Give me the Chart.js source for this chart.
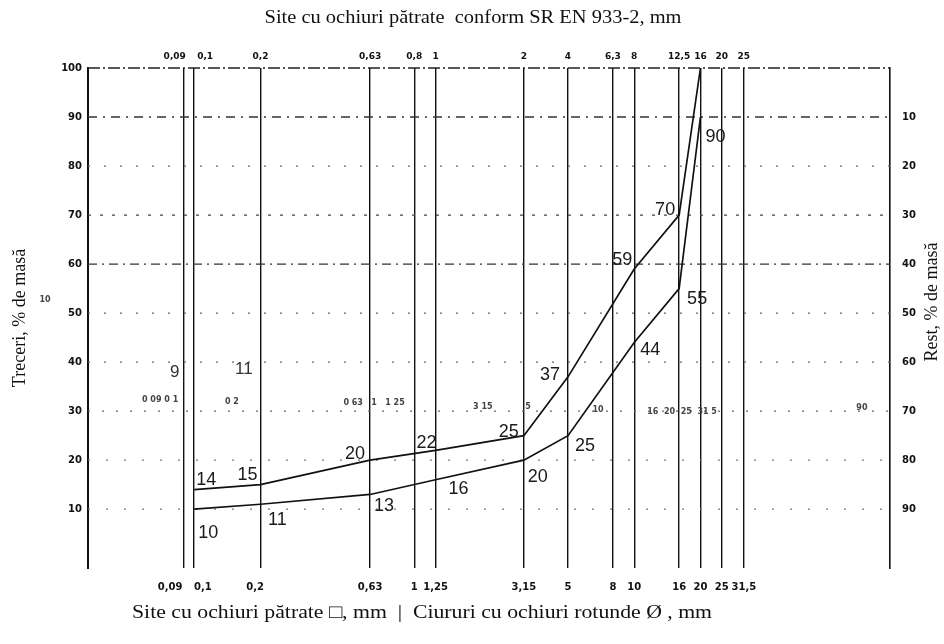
<!DOCTYPE html>
<html>
<head>
<meta charset="utf-8">
<style>
html,body{margin:0;padding:0;background:#fff;}
#wrap{width:944px;height:644px;position:relative;}
canvas{display:block;}
</style>
<script src="https://cdn.jsdelivr.net/npm/chart.js@4.4.1/dist/chart.umd.min.js"></script>
</head>
<body>
<div id="wrap"><canvas id="c" width="944" height="644"></canvas></div>
<script>
// ---------- data ----------
const sieveRound   = [0.09, 0.1, 0.2, 0.63, 1, 1.25, 3.15, 5, 8, 10, 16, 20, 25, 31.5];
const labelsRound  = ['0,09','0,1','0,2','0,63','1','1,25','3,15','5','8','10','16','20','25','31,5'];
const labelsSquare = ['0,09','0,1','0,2','0,63','0,8','1','2','4','6,3','8','12,5','16','20','25'];
const curveSieves  = [0.1, 0.2, 0.63, 1.25, 3.15, 5, 10, 16, 20];
const upperLimit   = [14, 15, 20, 22, 25, 37, 59, 70, 100];
const lowerLimit   = [10, 11, 13, 16, 20, 25, 44, 55, 90];
const upperShown   = [true, true, true, true, true, true, true, true, false];
const lowerShown   = [true, true, true, true, true, true, true, true, true];
const passTicks    = [10, 20, 30, 40, 50, 60, 70, 80, 90, 100];
const restTicks    = [10, 20, 30, 40, 50, 60, 70, 80, 90];

const topTitle    = 'Site cu ochiuri pătrate  conform SR EN 933-2, mm';
const bottomTitle = 'Site cu ochiuri pătrate \u25A1, mm  |  Ciururi cu ochiuri rotunde \u00D8 , mm';
const leftTitle   = 'Treceri, % de masă';
const rightTitle  = 'Rest, % de masă';

// faint show-through text of the scanned page (data-space anchors)
const ghostNotes = [
  {t:'9',  x:0.0816, y:38.0, big:true},
  {t:'11', x:0.168, y:38.5, big:true},
  {t:'0 09 0 1', x:0.070, y:32.3},
  {t:'0 2', x:0.1485, y:31.9},
  {t:'0 63   1   1 25', x:0.657, y:31.7},
  {t:'3 15', x:2.05, y:30.9},
  {t:'5', x:3.29, y:30.9},
  {t:'10', x:6.85, y:30.2},
  {t:'16  20  25  31 5', x:16.5, y:29.8},
  {t:'10', x:0.021, y:52.7},
  {t:'90', x:108.4, y:30.6}
];

// ---------- style ----------
const XMIN = 0.03291, XMAX = 145.4;
const upperOffsets = [[12,-10],[-13,-10],[-15,-6],[-9,-7],[-15,-4],[-18,-2],[-12,-9],[-14,-5]];
const lowerOffsets = [[14,24],[17,16],[14,12],[23,9],[14,17],[17,10],[16,8],[18,10],[15,20]];
const bottomPad = {0:-8, 1:5, 2:-3};
const topPad = {0:-6, 1:7};
function padLabel(s, n){
  if(!n) return s;
  const sp = ' '.repeat(Math.abs(n));
  return n < 0 ? s + sp : sp + s;
}
const bottomTickText = labelsRound.map((s,i)=>padLabel(s, bottomPad[i]));
const topTickText = labelsSquare.map((s,i)=>padLabel(s, topPad[i]));

const tickFont = {family:'DejaVu Sans', weight:'bold', size:10};
const gridStyle = {
  100:{dash:[12,3,2,3], w:1.4, c:'#222'},
  90:{dash:[9,6,2,6], w:1.3, c:'#333'},
  80:{dash:[2,14], w:1.3, c:'#666'},
  70:{dash:[3,9], w:1.3, c:'#444'},
  60:{dash:[9,5,2,5], w:1.3, c:'#333'},
  50:{dash:[2,14], w:1.3, c:'#666'},
  40:{dash:[2,14], w:1.3, c:'#666'},
  30:{dash:[2,12], w:1.3, c:'#666'},
  20:{dash:[2,16], w:1.3, c:'#777'},
  10:{dash:[2,16], w:1.3, c:'#777'}
};

const hGrid = {
  id:'hGrid',
  beforeDatasetsDraw(chart){
    const {ctx, chartArea:a, scales:{y}} = chart;
    passTicks.forEach(v=>{
      const s = gridStyle[v];
      const py = y.getPixelForValue(v);
      ctx.save();
      ctx.strokeStyle = s.c; ctx.lineWidth = s.w; ctx.setLineDash(s.dash);
      ctx.beginPath(); ctx.moveTo(a.left, py); ctx.lineTo(a.right, py); ctx.stroke();
      ctx.restore();
    });
  }
};

const pointLabels = {
  id:'pointLabels',
  afterDatasetsDraw(chart){
    const ctx = chart.ctx;
    ctx.save();
    ctx.font = '18px "Liberation Sans", Arial, sans-serif';
    ctx.fillStyle = '#1a1a1a';
    ctx.textAlign = 'center'; ctx.textBaseline = 'middle';
    [[0, upperLimit, upperShown, upperOffsets],[1, lowerLimit, lowerShown, lowerOffsets]].forEach(([di, vals, shown, offs])=>{
      const meta = chart.getDatasetMeta(di);
      meta.data.forEach((pt, j)=>{
        if(!shown[j]) return;
        const o = offs[j] || [0,0];
        ctx.fillText(String(vals[j]), pt.x + o[0], pt.y + o[1]);
      });
    });
    ctx.restore();
  }
};

function drawFit(ctx, text, cx, cy, font, targetW, rot){
  ctx.save();
  ctx.font = font;
  const w = ctx.measureText(text).width;
  const sx = targetW ? targetW / w : 1;
  ctx.translate(cx, cy);
  if(rot) ctx.rotate(rot);
  ctx.scale(sx, 1);
  ctx.textAlign = 'center'; ctx.textBaseline = 'middle';
  ctx.fillStyle = '#111';
  ctx.fillText(text, 0, 0);
  ctx.restore();
}

const titles = {
  id:'titles',
  afterDraw(chart){
    const ctx = chart.ctx;
    const serif = '"Liberation Serif", "Times New Roman", serif';
    drawFit(ctx, topTitle, 473, 18, '19px ' + serif, 417);
    drawFit(ctx, bottomTitle, 422, 613, '19px ' + serif, 580);
    drawFit(ctx, leftTitle, 20, 318, '18px ' + serif, 0, -Math.PI/2);
    drawFit(ctx, rightTitle, 932, 302, '18px ' + serif, 0, -Math.PI/2);
    // ghost show-through
    const {x, y} = chart.scales;
    ctx.save();
    ctx.textAlign = 'center'; ctx.textBaseline = 'middle';
    ghostNotes.forEach(g=>{
      ctx.font = g.big ? '17px "Liberation Sans", sans-serif' : 'bold 8px "DejaVu Sans", sans-serif';
      ctx.fillStyle = g.big ? '#333' : '#444';
      ctx.fillText(g.t, x.getPixelForValue(g.x), y.getPixelForValue(g.y));
    });
    ctx.restore();
  }
};

const ctx = document.getElementById('c').getContext('2d');
new Chart(ctx, {
  type:'line',
  data:{
    datasets:[
      {data: curveSieves.map((v,i)=>({x:v, y:upperLimit[i]})), borderColor:'#111', borderWidth:1.7, pointRadius:0, tension:0, fill:false, clip:false},
      {data: curveSieves.map((v,i)=>({x:v, y:lowerLimit[i]})), borderColor:'#111', borderWidth:1.7, pointRadius:0, tension:0, fill:false, clip:false}
    ]
  },
  options:{
    responsive:false,
    animation:false,
    layout:{padding:0},
    plugins:{legend:{display:false}, tooltip:{enabled:false}, title:{display:false}},
    scales:{
      x:{
        type:'logarithmic', position:'bottom', min:XMIN, max:XMAX,
        afterBuildTicks: s=>{ s.ticks = sieveRound.map(v=>({value:v})); },
        afterFit: s=>{ s.height = 644 - 568; },
        ticks:{autoSkip:false, maxRotation:0, minRotation:0, padding:13, color:'#111', font:tickFont,
               callback:(v,i)=>bottomTickText[i]},
        grid:{display:true, drawOnChartArea:true, drawTicks:false, color:'#111', lineWidth:1.4},
        border:{display:false}
      },
      xTop:{
        type:'logarithmic', position:'top', min:XMIN, max:XMAX,
        afterBuildTicks: s=>{ s.ticks = sieveRound.map(v=>({value:v})); },
        afterFit: s=>{ s.height = 68; },
        ticks:{autoSkip:false, maxRotation:0, minRotation:0, padding:6, color:'#111',
               font:{family:'DejaVu Sans', weight:'bold', size:9},
               callback:(v,i)=>topTickText[i]},
        grid:{display:false, drawTicks:false},
        border:{display:false}
      },
      y:{
        type:'linear', position:'left', min:-2, max:100,
        afterBuildTicks: s=>{ s.ticks = passTicks.map(v=>({value:v})); },
        afterFit: s=>{ s.width = 88; },
        ticks:{padding:6, color:'#111', font:tickFont},
        grid:{display:false, drawTicks:false},
        border:{display:true, color:'#111', width:2}
      },
      yRest:{
        type:'linear', position:'right', reverse:true, min:0, max:102,
        afterBuildTicks: s=>{ s.ticks = restTicks.map(v=>({value:v})); },
        afterFit: s=>{ s.width = 944 - 890; },
        ticks:{padding:12, color:'#111', font:tickFont},
        grid:{display:false, drawTicks:false},
        border:{display:true, color:'#111', width:1.6}
      }
    }
  },
  plugins:[hGrid, pointLabels, titles]
});
</script>
</body>
</html>
